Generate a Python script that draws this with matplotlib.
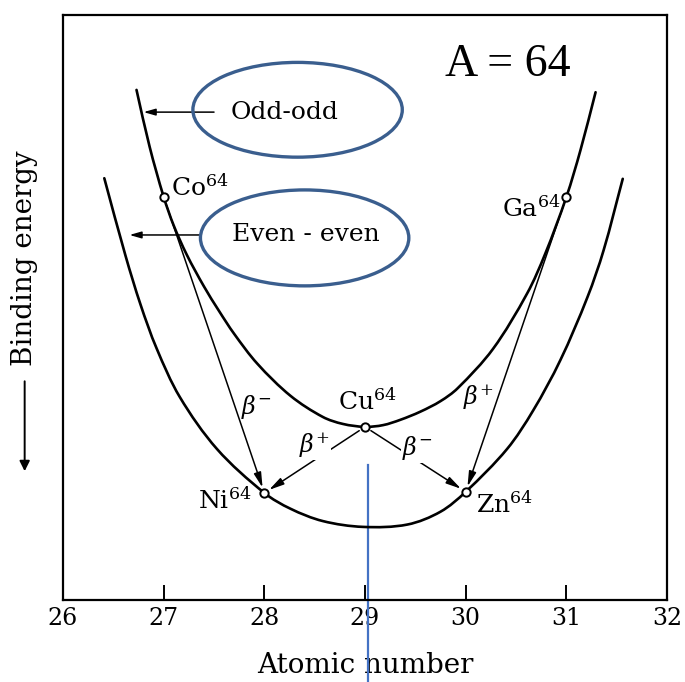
import matplotlib
matplotlib.use("Agg")
import numpy as np
from matplotlib import pyplot as plt
from matplotlib.patches import Ellipse, PathPatch, FancyArrowPatch
from matplotlib.path import Path

plt.rcParams['font.family'] = 'DejaVu Serif'
plt.rcParams['mathtext.fontset'] = 'dejavuserif'

# Mass parabolas for A = 64 (arbitrary energy units, lower = more bound)
odd_z = [26.73, 26.86, 27.0, 27.10, 27.23, 27.40, 27.55, 27.70, 27.93, 28.26, 28.58, 28.78,
         29.0, 29.18, 29.35, 29.55, 29.75, 29.92, 30.27, 30.61, 30.79, 31.0, 31.14, 31.29]
odd_e = [8.72, 7.75, 6.89, 6.40, 5.90, 5.36, 4.94, 4.55, 4.04, 3.49, 3.13, 3.01,
         2.96, 2.99, 3.08, 3.22, 3.40, 3.62, 4.29, 5.24, 5.92, 6.89, 7.69, 8.68]
even_z = [26.41, 26.62, 26.77, 26.93, 27.16, 27.53, 28.0, 28.26, 28.58, 28.98,
          29.42, 29.75, 30.0, 30.41, 30.67, 30.94, 31.21, 31.37, 31.56]
even_e = [7.21, 5.89, 5.05, 4.30, 3.47, 2.58, 1.83, 1.56, 1.35, 1.25,
          1.29, 1.51, 1.85, 2.58, 3.24, 4.10, 5.18, 5.98, 7.20]

# isobars
nuclides = ['Co', 'Ni', 'Cu', 'Zn', 'Ga']
nuc_z = [27, 28, 29, 30, 31]
nuc_e = [6.89, 1.83, 2.96, 1.85, 6.89]

# decays: (from, to, label)
decays = [('Co', 'Ni', r'$\beta^{-}$'), ('Cu', 'Ni', r'$\beta^{+}$'),
          ('Cu', 'Zn', r'$\beta^{-}$'), ('Ga', 'Zn', r'$\beta^{+}$')]
decay_label_pos = [(27.92, 3.30), (28.50, 2.65), (29.52, 2.60), (30.12, 3.47)]
# labels sitting on top of their arrow get a white backing
decay_label_on_line = [False, True, True, False]

xticks = [26, 27, 28, 29, 30, 31, 32]


def smooth_path(ax, xs, ys):
    # cubic Hermite curve through the points, tangents from chord lengths
    p = np.column_stack([xs, ys]).astype(float)
    d = ax.transData.transform(p)
    t = np.concatenate([[0], np.cumsum(np.hypot(*np.diff(d, axis=0).T))])
    m = np.zeros_like(p)
    m[1:-1] = (p[2:] - p[:-2]) / (t[2:] - t[:-2])[:, None]
    m[0] = (p[1] - p[0]) / (t[1] - t[0])
    m[-1] = (p[-1] - p[-2]) / (t[-1] - t[-2])
    verts = [p[0]]
    codes = [Path.MOVETO]
    for i in range(len(p) - 1):
        h = t[i + 1] - t[i]
        verts += [p[i] + m[i] * h / 3, p[i + 1] - m[i + 1] * h / 3, p[i + 1]]
        codes += [Path.CURVE4] * 3
    return Path(verts, codes)


fig = plt.figure(figsize=(6.85, 6.82), dpi=100)
ax = fig.add_axes([0.092, 0.1202, 0.8818, 0.8578])
ax.set_xlim(26, 32)
ax.set_ylim(0, 10)

for zs, es in [(odd_z, odd_e), (even_z, even_e)]:
    ax.add_patch(PathPatch(smooth_path(ax, zs, es), fill=False, edgecolor='black',
                           lw=1.9, capstyle='round', zorder=4))

pos = {n: (z, e) for n, z, e in zip(nuclides, nuc_z, nuc_e)}

for (src, dst, lab), (lx, ly), on_line in zip(decays, decay_label_pos, decay_label_on_line):
    ax.annotate('', xy=pos[dst], xytext=pos[src],
                arrowprops=dict(arrowstyle='-|>,head_length=0.9,head_width=0.22',
                                color='black', lw=1.1, shrinkA=5, shrinkB=4))
    bbox = dict(facecolor='white', edgecolor='none', pad=0.5) if on_line else None
    ax.text(lx, ly, lab, fontsize=17, ha='center', va='center', bbox=bbox)

ax.plot(nuc_z, nuc_e, 'o', ms=6, mfc='white', mec='black', mew=1.4, zorder=5)

# isotope names
ax.text(27.07, 7.05, r'Co$^{64}$', fontsize=18, ha='left', va='center')
ax.text(30.94, 6.70, r'Ga$^{64}$', fontsize=18, ha='right', va='center')
ax.text(29.02, 3.40, r'Cu$^{64}$', fontsize=18, ha='center', va='center')
ax.text(27.87, 1.70, r'Ni$^{64}$', fontsize=18, ha='right', va='center')
ax.text(30.10, 1.64, r'Zn$^{64}$', fontsize=18, ha='left', va='center')

# curve labels with pointers
ax.annotate('', xy=(26.80, 8.34), xytext=(27.50, 8.34),
            arrowprops=dict(arrowstyle='-|>,head_length=0.7,head_width=0.2',
                            color='black', lw=1.1, shrinkA=0, shrinkB=0))
ax.text(28.20, 8.34, 'Odd-odd', fontsize=18, ha='center', va='center')
ax.annotate('', xy=(26.66, 6.24), xytext=(27.37, 6.24),
            arrowprops=dict(arrowstyle='-|>,head_length=0.7,head_width=0.2',
                            color='black', lw=1.1, shrinkA=0, shrinkB=0))
ax.text(28.41, 6.24, 'Even - even', fontsize=18, ha='center', va='center')

ax.add_patch(Ellipse((28.33, 8.38), 2.08, 1.62, fill=False,
                     edgecolor='#3a5e8e', lw=2.4, zorder=6))
ax.add_patch(Ellipse((28.40, 6.19), 2.07, 1.64, fill=False,
                     edgecolor='#3a5e8e', lw=2.4, zorder=6))

ax.text(30.42, 9.15, 'A = 64', fontsize=33, family='Liberation Serif',
        ha='center', va='center')

# marker line at Z = 29
ax.plot([29.03, 29.03], [2.31, -1.45], color='#4472c4', lw=1.6, clip_on=False)

ax.set_xticks(xticks)
ax.set_xticklabels([str(t) for t in xticks], fontsize=17)
ax.set_yticks([])
ax.tick_params(axis='x', direction='in', length=11, width=1.4, pad=5)
for s in ax.spines.values():
    s.set_linewidth(1.6)

ax.set_xlabel('Atomic number', fontsize=20, labelpad=16)

# vertical axis caption with downward arrow
fig.text(0.036, 0.622, 'Binding energy', rotation=90, fontsize=20,
         ha='center', va='center')
fig.add_artist(FancyArrowPatch(
    (0.036, 0.445), (0.036, 0.305), transform=fig.transFigure,
    arrowstyle='-|>,head_length=6,head_width=3', color='black', lw=1.4))

plt.savefig('out.png', dpi=100)
